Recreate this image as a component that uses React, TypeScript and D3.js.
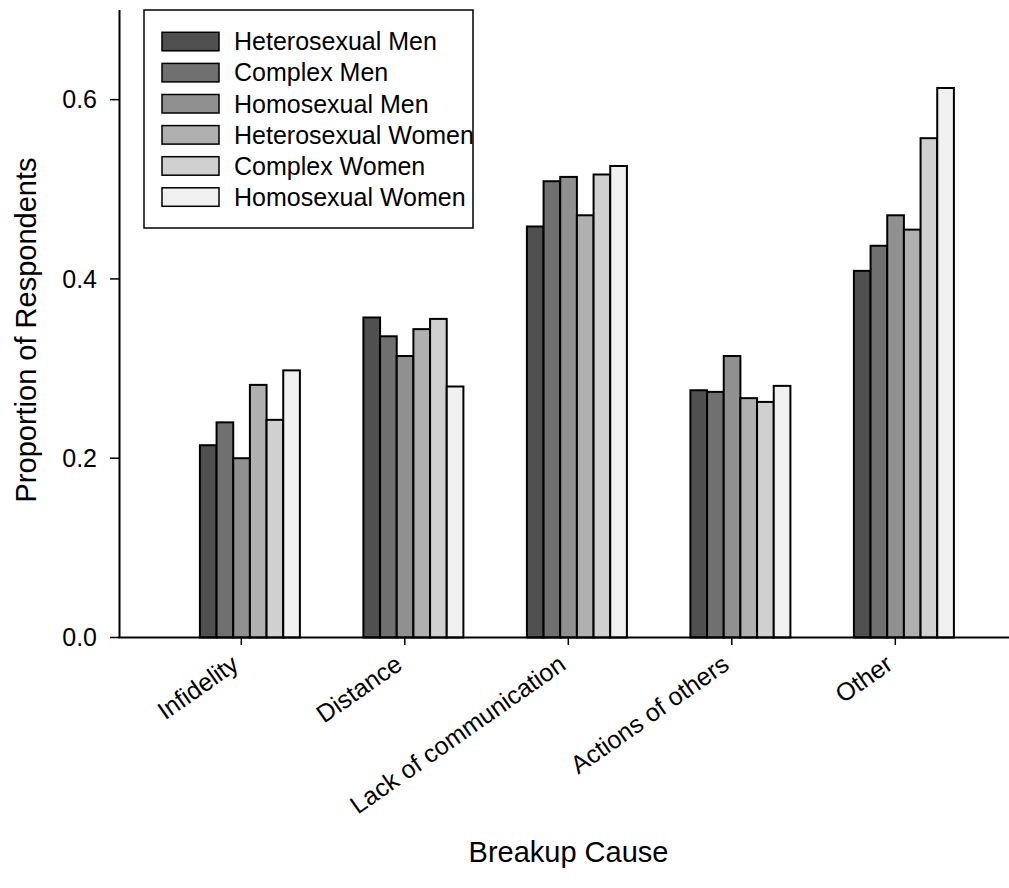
import React from "react";
import * as d3 from "d3";

const categories = ["Infidelity", "Distance", "Lack of communication", "Actions of others", "Other"];
const seriesNames = [
  "Heterosexual Men",
  "Complex Men",
  "Homosexual Men",
  "Heterosexual Women",
  "Complex Women",
  "Homosexual Women",
];
const seriesColors = ["#505050", "#707070", "#909090", "#b0b0b0", "#d0d0d0", "#f0f0f0"];
const heterosexualMen = [0.2145, 0.357, 0.4585, 0.2758, 0.409];
const complexMen = [0.240, 0.336, 0.509, 0.274, 0.437];
const homosexualMen = [0.200, 0.314, 0.5138, 0.314, 0.471];
const heterosexualWomen = [0.2818, 0.344, 0.471, 0.267, 0.455];
const complexWomen = [0.2428, 0.3554, 0.5165, 0.2628, 0.557];
const homosexualWomen = [0.298, 0.280, 0.526, 0.2807, 0.613];
const seriesValues = [heterosexualMen, complexMen, homosexualMen, heterosexualWomen, complexWomen, homosexualWomen];
const yTicks = [0.0, 0.2, 0.4, 0.6];

const FONT = "'Liberation Sans', Arial, Helvetica, sans-serif";

export default function App() {
  const W = 1009;
  const H = 888;
  const axisX = 119.5;
  const axisY = 637.5;
  const y = d3.scaleLinear().domain([0, 0.7]).range([axisY, 10]);
  const x = d3.scalePoint<string>().domain(categories).range([241.3, 895.3]);
  const sub = d3.scaleBand<string>().domain(seriesNames).range([0, 100]).padding(0);
  const groupOffset = -41.4;

  return (
    <svg width={W} height={H} style={{ display: "block", position: "absolute", left: 0, top: 0 }} fontFamily={FONT}>
      <rect x={0} y={0} width={W} height={H} fill="#ffffff" />
      {/* bars */}
      {categories.map((c, ci) => (
        <g key={c} transform={`translate(${(x(c) as number) + groupOffset},0)`}>
          {seriesNames.map((s, si) => {
            const v = seriesValues[si][ci];
            return (
              <rect
                key={s}
                x={sub(s) as number}
                y={y(v)}
                width={sub.bandwidth()}
                height={y(0) - y(v)}
                fill={seriesColors[si]}
                stroke="#000"
                strokeWidth={2}
              />
            );
          })}
        </g>
      ))}
      {/* y axis */}
      <line x1={axisX} x2={axisX} y1={10} y2={axisY} stroke="#000" strokeWidth={2} />
      {yTicks.map((t) => (
        <g key={t}>
          <line x1={110} x2={axisX} y1={y(t)} y2={y(t)} stroke="#000" strokeWidth={1.5} />
          <text x={97} y={y(t)} dy="0.35em" textAnchor="end" fontSize={25} fill="#000">
            {d3.format(".1f")(t)}
          </text>
        </g>
      ))}
      {/* x axis */}
      <line x1={axisX - 1} x2={W} y1={axisY} y2={axisY} stroke="#000" strokeWidth={2} />
      {categories.map((c) => {
        const cx = x(c) as number;
        return (
          <g key={c}>
            <line x1={cx} x2={cx} y1={axisY} y2={645} stroke="#000" strokeWidth={1.5} />
            <text
              transform={`translate(${cx - 1},${668}) rotate(-35)`}
              textAnchor="end"
              fontSize={25}
              fill="#000"
            >
              {c}
            </text>
          </g>
        );
      })}
      {/* axis titles */}
      <text x={568.5} y={862} textAnchor="middle" fontSize={29} fill="#000">
        Breakup Cause
      </text>
      <text transform={`translate(36,330) rotate(-90)`} textAnchor="middle" fontSize={29} fill="#000">
        Proportion of Respondents
      </text>
      {/* legend */}
      <rect x={144} y={10} width={329} height={218} fill="#fff" stroke="#000" strokeWidth={1.5} />
      {seriesNames.map((s, i) => {
        const top = 32.3 + i * 31.1;
        return (
          <g key={s}>
            <rect x={162} y={top} width={57} height={18.5} fill={seriesColors[i]} stroke="#000" strokeWidth={1.5} />
            <text x={234} y={top + 9.3} dy="0.35em" fontSize={25} fill="#000">
              {s}
            </text>
          </g>
        );
      })}
    </svg>
  );
}
